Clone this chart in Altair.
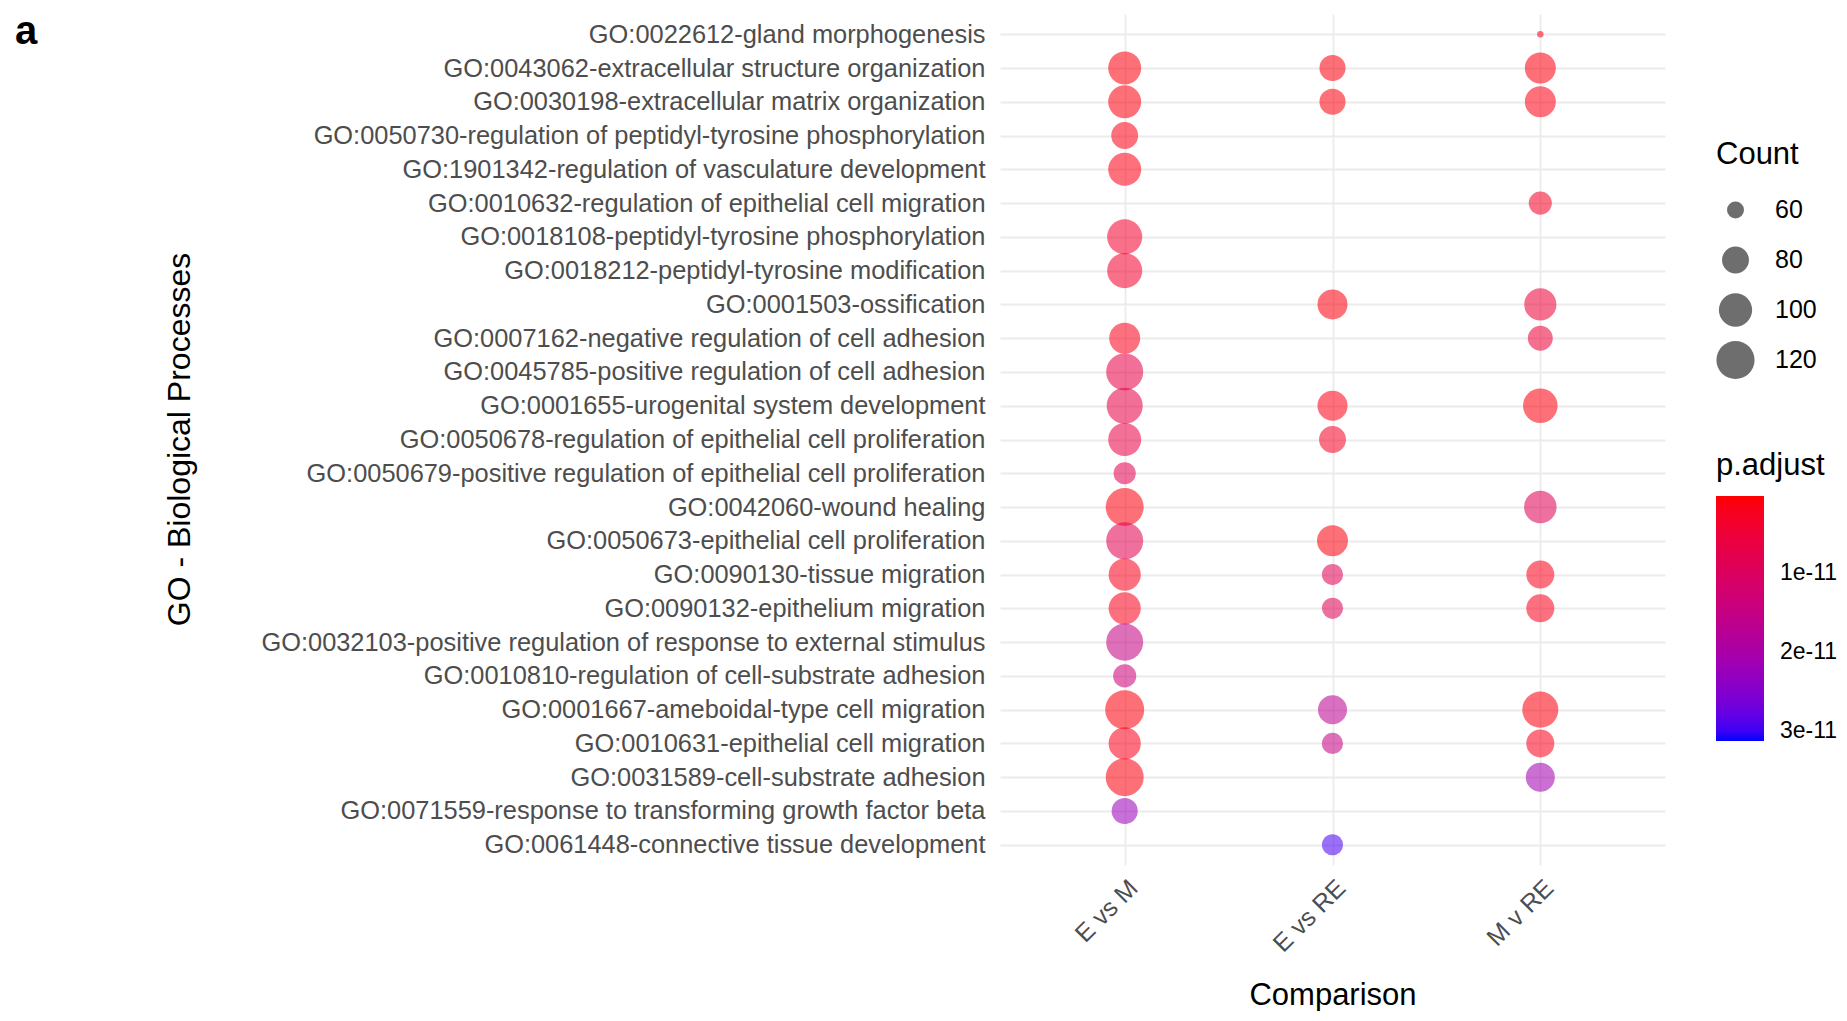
import altair as alt
import pandas as pd

terms = [
    "GO:0022612-gland morphogenesis",
    "GO:0043062-extracellular structure organization",
    "GO:0030198-extracellular matrix organization",
    "GO:0050730-regulation of peptidyl-tyrosine phosphorylation",
    "GO:1901342-regulation of vasculature development",
    "GO:0010632-regulation of epithelial cell migration",
    "GO:0018108-peptidyl-tyrosine phosphorylation",
    "GO:0018212-peptidyl-tyrosine modification",
    "GO:0001503-ossification",
    "GO:0007162-negative regulation of cell adhesion",
    "GO:0045785-positive regulation of cell adhesion",
    "GO:0001655-urogenital system development",
    "GO:0050678-regulation of epithelial cell proliferation",
    "GO:0050679-positive regulation of epithelial cell proliferation",
    "GO:0042060-wound healing",
    "GO:0050673-epithelial cell proliferation",
    "GO:0090130-tissue migration",
    "GO:0090132-epithelium migration",
    "GO:0032103-positive regulation of response to external stimulus",
    "GO:0010810-regulation of cell-substrate adhesion",
    "GO:0001667-ameboidal-type cell migration",
    "GO:0010631-epithelial cell migration",
    "GO:0031589-cell-substrate adhesion",
    "GO:0071559-response to transforming growth factor beta",
    "GO:0061448-connective tissue development",
]

comparisons = ["E vs M", "E vs RE", "M v RE"]

count_e_vs_m = [None, 99, 99, 80, 99, None, 107, 107, None, 92, 115, 111, 99,
                69, 119, 115, 96, 96, 115, 71, 124, 96, 119, 78, None]
padj_e_vs_m = [None, 1e-12, 1e-12, 1.5e-12, 1.5e-12, None, 4e-12, 4e-12, None,
               2e-12, 7e-12, 7e-12, 6.5e-12, 8e-12, 1e-12, 8e-12, 2e-12,
               2e-12, 1.5e-11, 1.35e-11, 1e-12, 2e-12, 1e-12, 2.2e-11, None]

count_e_vs_re = [None, 78, 78, None, None, None, None, None, 89, None, None,
                 89, 80, None, None, 92, 67, 67, None, None, 86, 67, None,
                 None, 67]
padj_e_vs_re = [None, 1e-12, 1e-12, None, None, None, None, None, 1e-12, None,
                None, 1.5e-12, 3e-12, None, None, 1e-12, 9e-12, 9e-12, None,
                None, 1.7e-11, 1.5e-11, None, None, 2.95e-11]

count_m_v_re = [50, 92, 92, None, None, 71, None, None, 96, 75, None, 105,
                None, None, 97, None, 83, 83, None, None, 111, 83, 86, None,
                None]
padj_m_v_re = [2e-12, 1e-12, 1.5e-12, None, None, 3e-12, None, None, 5e-12,
               5e-12, None, 1e-12, None, None, 9e-12, None, 2e-12, 2e-12,
               None, None, 1e-12, 2e-12, 2.1e-11, None, None]

rows = []
for comp, counts, padjs in [
    ("E vs M", count_e_vs_m, padj_e_vs_m),
    ("E vs RE", count_e_vs_re, padj_e_vs_re),
    ("M v RE", count_m_v_re, padj_m_v_re),
]:
    for term, c, p in zip(terms, counts, padjs):
        if c is not None:
            rows.append({"Comparison": comp, "Description": term,
                         "Count": c, "padj": p})
df = pd.DataFrame(rows)

FONT = "Liberation Sans"

chart = alt.Chart(df).mark_circle(opacity=0.56).encode(
    x=alt.X("Comparison:N", sort=comparisons,
            scale=alt.Scale(type="point", padding=0.6),
            axis=alt.Axis(title="Comparison", labelAngle=-45, labelAlign="right",
                          labelBaseline="top", labelFontSize=25, labelColor="#4D4D4D",
                          labelPadding=10,
                          titleFontSize=31, titleFontWeight="normal", titleColor="#000000",
                          titleY=139, titleBaseline="alphabetic",
                          domain=False, ticks=False, grid=True,
                          gridColor="#EBEBEB", gridWidth=1.8)),
    y=alt.Y("Description:N", sort=terms,
            scale=alt.Scale(type="point", padding=0.6),
            axis=alt.Axis(title="GO - Biological Processes", labelFontSize=25.4,
                          labelColor="#4D4D4D", labelPadding=15, labelLimit=1000,
                          titleFontSize=32, titleFontWeight="normal", titleColor="#000000",
                          titleX=-821, titleY=425, titleAngle=-90,
                          titleAlign="center", titleBaseline="middle",
                          domain=False, ticks=False, grid=True,
                          gridColor="#EBEBEB", gridWidth=1.8)),
    size=alt.Size("Count:Q",
                  scale=alt.Scale(type="sqrt", domain=[50, 124], range=[42, 1521],
                                  zero=False, nice=False),
                  legend=alt.Legend(title="Count", values=[60, 80, 100, 120],
                                    orient="none", legendX=716, legendY=126,
                                    symbolFillColor="#6E6E6E", symbolStrokeWidth=0,
                                    symbolOpacity=1, labelFontSize=25,
                                    titleFontSize=31, titleFontWeight="normal",
                                    labelOffset=20, rowPadding=10, clipHeight=40,
                                    titlePadding=19)),
    color=alt.Color("padj:Q",
                    scale=alt.Scale(domain=[3.13e-11, 3e-13],
                                    range=["#0000FF", "#FF0000"],
                                    interpolate="lab", zero=False, nice=False),
                    legend=alt.Legend(title="p.adjust", values=[1e-11, 2e-11, 3e-11],
                                      format=".0e", orient="none",
                                      legendX=716, legendY=437,
                                      gradientLength=245, gradientThickness=48,
                                      gradientOpacity=1,
                                      labelFontSize=23, titleFontSize=31,
                                      titleFontWeight="normal", labelOffset=16,
                                      titlePadding=14)),
).properties(
    width=665,
    height=851,
    title=alt.TitleParams("a", anchor="start", frame="group", fontSize=40,
                          fontWeight="bold", font=FONT, dx=-985, dy=74,
                          baseline="alphabetic"),
    autosize=alt.AutoSizeParams(type="none"),
    padding={"left": 992, "top": 6, "right": 172, "bottom": 146},
).configure(
    font=FONT,
).configure_view(
    stroke=None,
).configure_legend(
    labelFont=FONT, titleFont=FONT, labelColor="#000000", titleColor="#000000",
)

chart.save("out.html", embed_options={"renderer": "svg", "actions": False})
